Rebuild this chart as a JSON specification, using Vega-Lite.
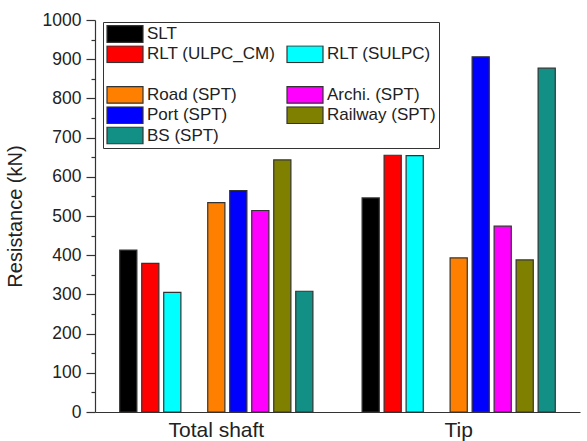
{
  "$schema": "https://vega.github.io/schema/vega-lite/v6.json",
  "width": 485,
  "height": 392,
  "autosize": "none",
  "padding": {"left": 95, "top": 20, "right": 7, "bottom": 29},
  "background": "white",
  "config": {
    "view": {"stroke": null},
    "font": "Liberation Sans"
  },
  "data": {
    "values": [
      {"group": "Total shaft", "series": "SLT", "value": 413},
      {"group": "Total shaft", "series": "RLT (ULPC_CM)", "value": 379},
      {"group": "Total shaft", "series": "RLT (SULPC)", "value": 305},
      {"group": "Total shaft", "series": "Road (SPT)", "value": 534},
      {"group": "Total shaft", "series": "Port (SPT)", "value": 565},
      {"group": "Total shaft", "series": "Archi. (SPT)", "value": 514},
      {"group": "Total shaft", "series": "Railway (SPT)", "value": 643},
      {"group": "Total shaft", "series": "BS (SPT)", "value": 308},
      {"group": "Tip", "series": "SLT", "value": 546},
      {"group": "Tip", "series": "RLT (ULPC_CM)", "value": 655},
      {"group": "Tip", "series": "RLT (SULPC)", "value": 654},
      {"group": "Tip", "series": "Road (SPT)", "value": 393},
      {"group": "Tip", "series": "Port (SPT)", "value": 906},
      {"group": "Tip", "series": "Archi. (SPT)", "value": 474},
      {"group": "Tip", "series": "Railway (SPT)", "value": 388},
      {"group": "Tip", "series": "BS (SPT)", "value": 877}
    ]
  },
  "mark": {"type": "bar", "strokeWidth": 1.2},
  "encoding": {
    "x": {
      "field": "group",
      "type": "nominal",
      "sort": ["Total shaft", "Tip"],
      "scale": {"paddingInner": 0.183, "paddingOuter": 0.092},
      "axis": {
        "title": null,
        "labelAngle": 0,
        "ticks": false,
        "labelFontSize": 21,
        "labelColor": "#222",
        "labelPadding": 7,
        "domainColor": "#333",
        "domainWidth": 1.2
      }
    },
    "xOffset": {
      "field": "series",
      "type": "nominal",
      "scale": {
        "domain": ["SLT", "RLT (ULPC_CM)", "RLT (SULPC)", " ", "Road (SPT)", "Port (SPT)", "Archi. (SPT)", "Railway (SPT)", "BS (SPT)"],
        "paddingInner": 0.22,
        "paddingOuter": 0.11
      }
    },
    "y": {
      "field": "value",
      "type": "quantitative",
      "scale": {"domain": [0, 1000], "nice": false},
      "axis": {
        "title": "Resistance (kN)",
        "titleFontSize": 20,
        "titleFontWeight": "normal",
        "titleColor": "#222",
        "titlePadding": 17,
        "values": [0, 50, 100, 150, 200, 250, 300, 350, 400, 450, 500, 550, 600, 650, 700, 750, 800, 850, 900, 950, 1000],
        "labelExpr": "datum.value % 100 == 0 ? format(datum.value, 'd') : ''",
        "labelFontSize": 17.5,
        "labelColor": "#222",
        "labelPadding": 5,
        "tickSize": {"condition": {"test": "datum.value % 100 == 0", "value": 9}, "value": 4},
        "tickColor": "#333",
        "tickWidth": 1.2,
        "domainColor": "#333",
        "domainWidth": 1.2,
        "grid": false
      }
    },
    "fill": {
      "field": "series",
      "type": "nominal",
      "scale": {
        "domain": ["SLT", "RLT (ULPC_CM)", " ", "Road (SPT)", "Port (SPT)", "BS (SPT)", "  ", "RLT (SULPC)", "   ", "Archi. (SPT)", "Railway (SPT)"],
        "range": ["#000000", "#ff0000", "transparent", "#ff8000", "#0000ff", "#139085", "transparent", "#00ffff", "transparent", "#ff00ff", "#808000"]
      },
      "legend": {
        "title": null,
        "orient": "none",
        "legendX": 8,
        "legendY": 2,
        "columns": 2,
        "columnPadding": 10,
        "rowPadding": 2.3,
        "clipHeight": 18,
        "symbolType": "M-1,-0.46H1V0.46H-1Z",
        "symbolSize": 1296,
        "symbolStrokeWidth": 1.2,
        "labelFontSize": 17,
        "labelColor": "#222",
        "labelOffset": 3,
        "labelLimit": 300,
        "padding": 3,
        "strokeColor": "#333",
        "fillColor": "white"
      }
    },
    "stroke": {
      "field": "series",
      "type": "nominal",
      "scale": {
        "domain": ["SLT", "RLT (ULPC_CM)", " ", "Road (SPT)", "Port (SPT)", "BS (SPT)", "  ", "RLT (SULPC)", "   ", "Archi. (SPT)", "Railway (SPT)"],
        "range": ["#333333", "#333333", "transparent", "#333333", "#333333", "#333333", "transparent", "#333333", "transparent", "#333333", "#333333"]
      },
      "legend": {
        "title": null,
        "orient": "none",
        "legendX": 8,
        "legendY": 2,
        "columns": 2,
        "columnPadding": 10,
        "rowPadding": 2.3,
        "clipHeight": 18,
        "symbolType": "M-1,-0.46H1V0.46H-1Z",
        "symbolSize": 1296,
        "symbolStrokeWidth": 1.2,
        "labelFontSize": 17,
        "labelColor": "#222",
        "labelOffset": 3,
        "labelLimit": 300,
        "padding": 3,
        "strokeColor": "#333",
        "fillColor": "white"
      }
    }
  }
}
